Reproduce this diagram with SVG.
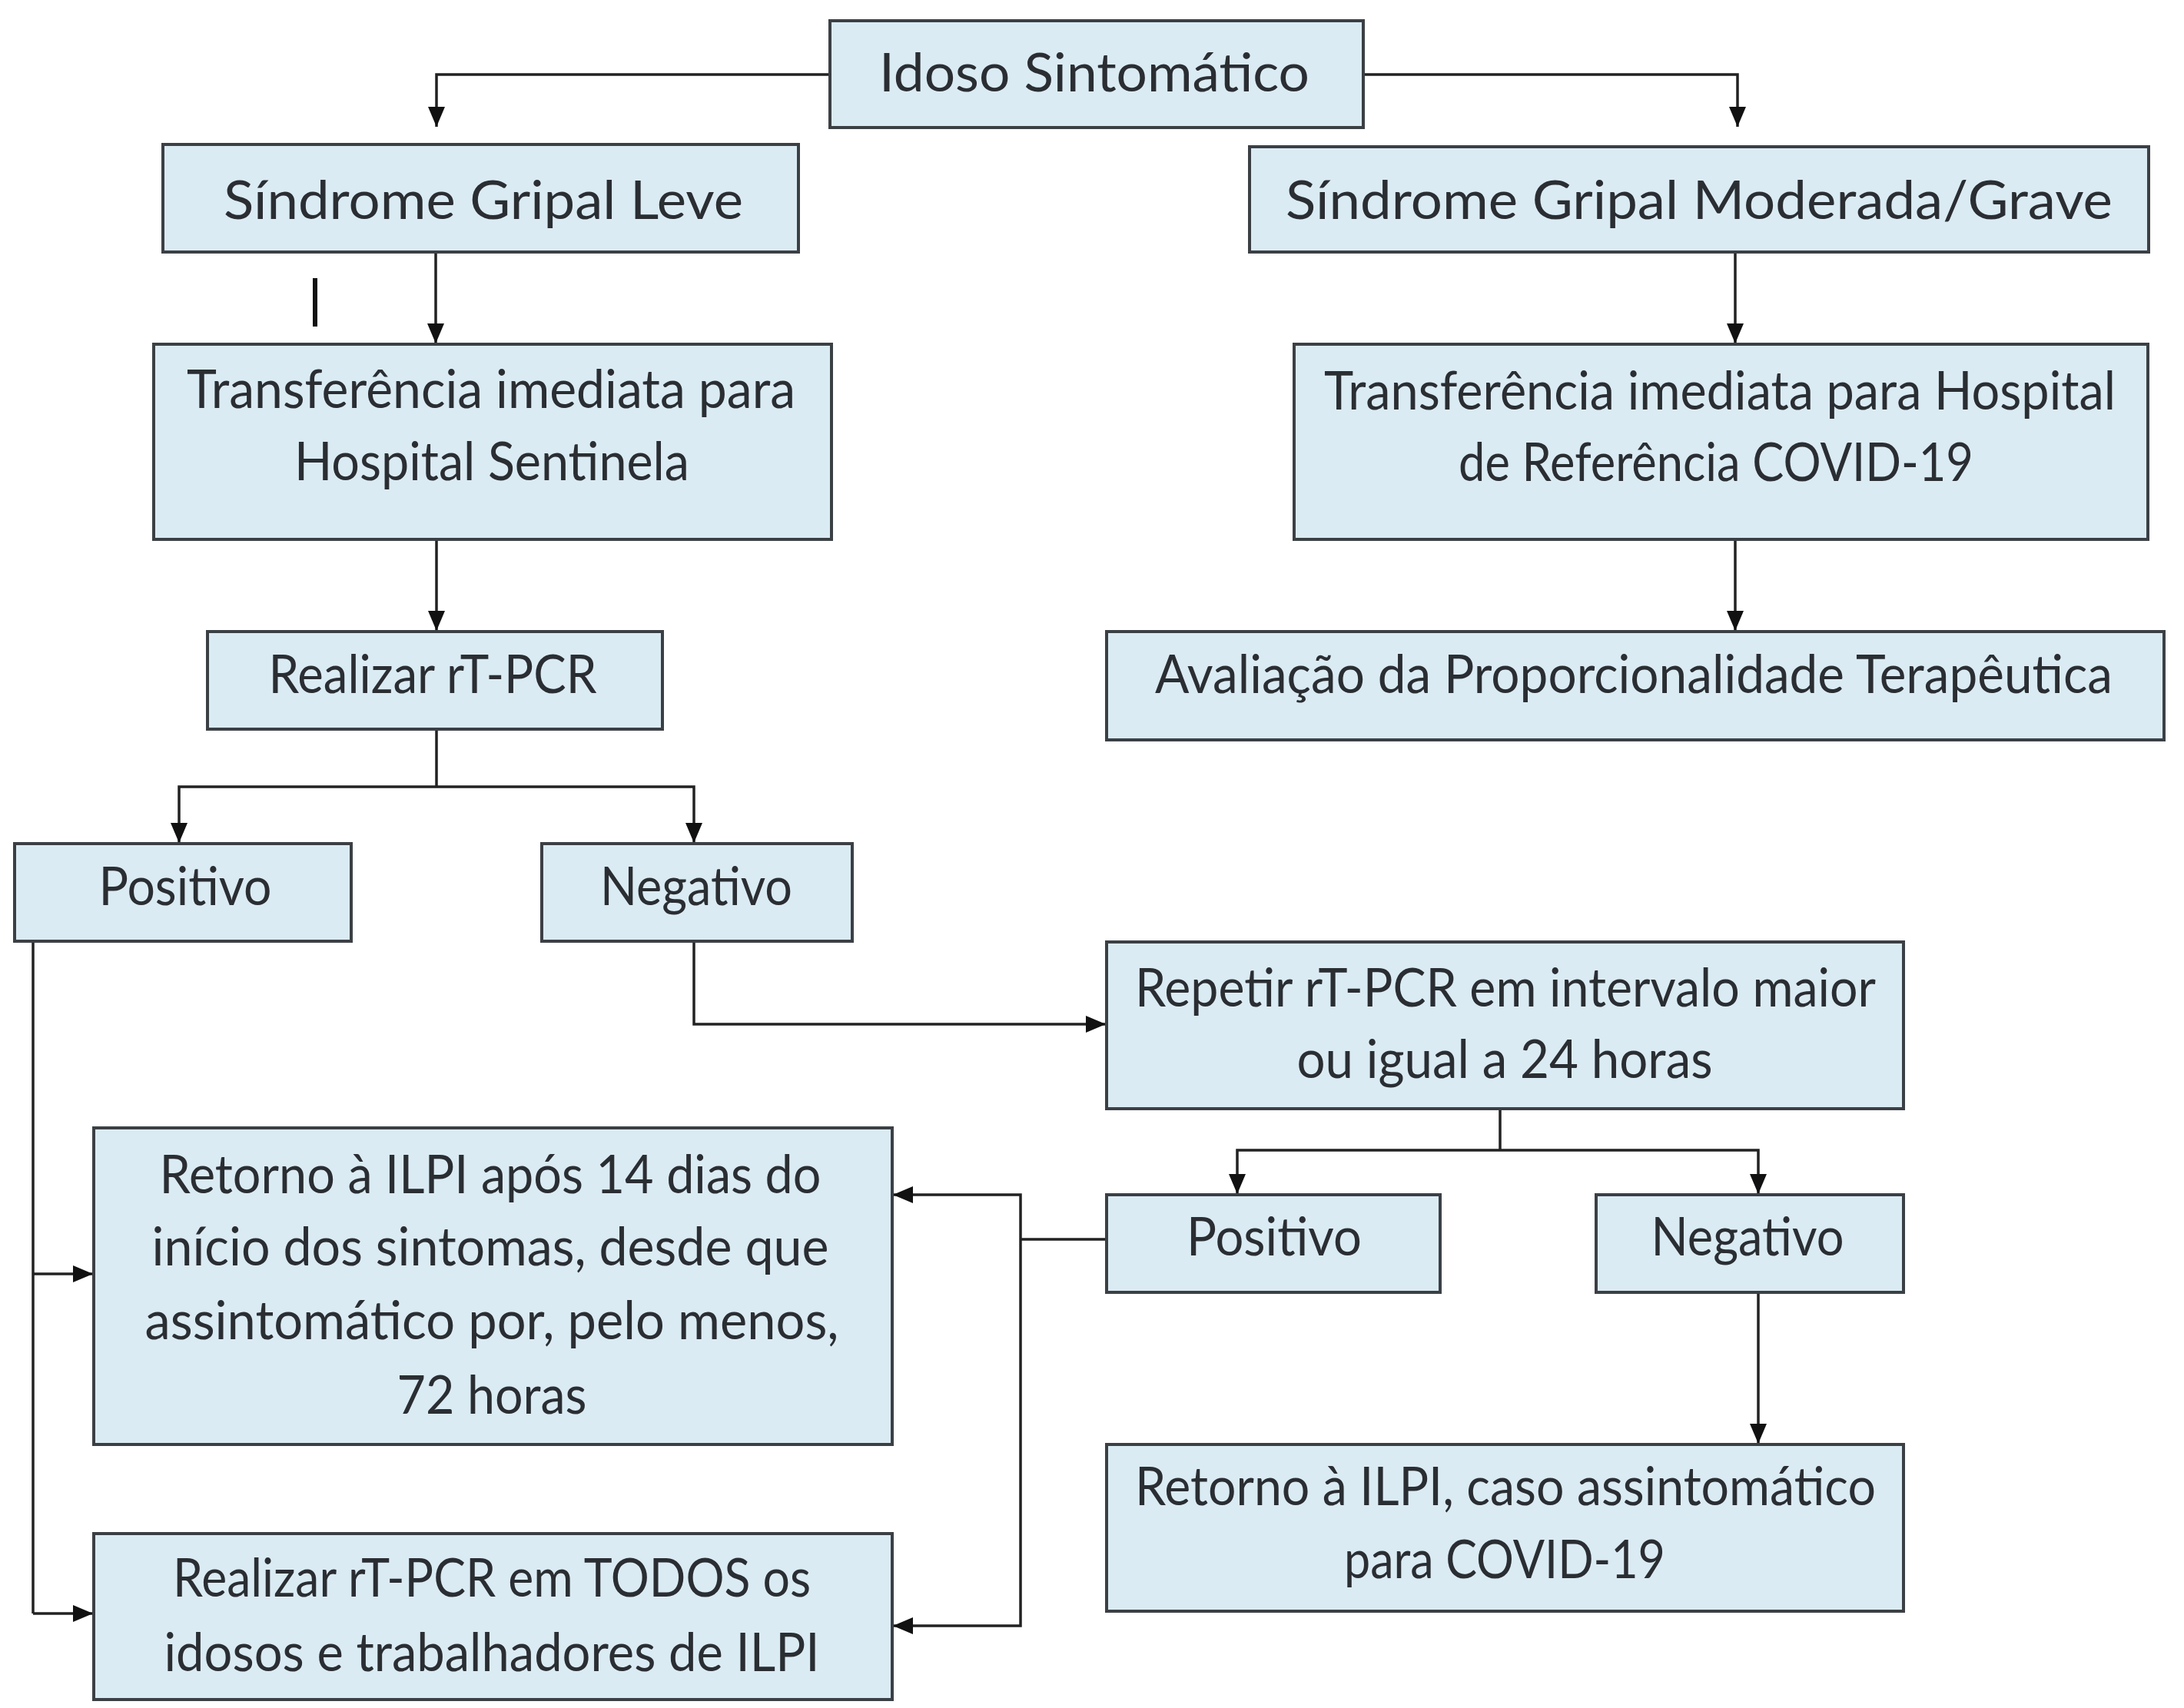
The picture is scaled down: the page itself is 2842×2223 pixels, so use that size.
<svg xmlns="http://www.w3.org/2000/svg" width="2842" height="2223" viewBox="0 0 2842 2223">
<style>
.box{fill:#dbebf3;stroke:#3b4045;stroke-width:4}
.t{font-family:Lato,"Liberation Sans",sans-serif;font-size:70px;fill:#2a2e33;text-anchor:middle}
.c{fill:none;stroke:#222;stroke-width:3.5}
</style>
<defs>
<marker id="ah" markerUnits="userSpaceOnUse" markerWidth="28" markerHeight="24" refX="26" refY="11" orient="auto">
<path d="M0,0 L26,11 L0,22 Z" fill="#111"/>
</marker>
</defs>
<rect width="2842" height="2223" fill="#fff"/>
<g id="connectors">
<path class="c" d="M1080,97 H568 V165" marker-end="url(#ah)"/>
<path class="c" d="M1774,97 H2261 V165" marker-end="url(#ah)"/>
<path class="c" d="M567,328 V447" marker-end="url(#ah)"/>
<path class="c" d="M2258,328 V447" marker-end="url(#ah)"/>
<path class="c" d="M568,702 V821" marker-end="url(#ah)"/>
<path class="c" d="M2258,702 V821" marker-end="url(#ah)"/>
<path class="c" d="M568,949 V1024"/>
<path class="c" d="M568,1024 H233 V1097" marker-end="url(#ah)"/>
<path class="c" d="M568,1024 H903 V1097" marker-end="url(#ah)"/>
<path class="c" d="M43,1225 V2100"/>
<path class="c" d="M43,1658 H121" marker-end="url(#ah)"/>
<path class="c" d="M43,2100 H121" marker-end="url(#ah)"/>
<path class="c" d="M903,1225 V1333 H1439" marker-end="url(#ah)"/>
<path class="c" d="M1952,1443 V1497"/>
<path class="c" d="M1952,1497 H1610 V1554" marker-end="url(#ah)"/>
<path class="c" d="M1952,1497 H2288 V1554" marker-end="url(#ah)"/>
<path class="c" d="M1440,1613 H1328"/>
<path class="c" d="M1328,1613 V1555 H1162" marker-end="url(#ah)"/>
<path class="c" d="M1328,1613 V2116 H1162" marker-end="url(#ah)"/>
<path class="c" d="M2288,1682 V1879" marker-end="url(#ah)"/>
<line x1="410" y1="362" x2="410" y2="425" stroke="#111" stroke-width="6"/>
</g>
<g id="idoso"><rect class="box" x="1080" y="27" width="694" height="139"/><text class="t" x="1424" y="119" textLength="560" lengthAdjust="spacingAndGlyphs">Idoso Sintomático</text></g>
<g id="sg-leve"><rect class="box" x="212" y="188" width="827" height="140"/><text class="t" x="629" y="285" textLength="676" lengthAdjust="spacingAndGlyphs">Síndrome Gripal Leve</text></g>
<g id="sg-grave"><rect class="box" x="1626" y="191" width="1170" height="137"/><text class="t" x="2211" y="285" textLength="1076" lengthAdjust="spacingAndGlyphs">Síndrome Gripal Moderada/Grave</text></g>
<g id="transf-sentinela"><rect class="box" x="200" y="448" width="882" height="254"/><text class="t" x="639" y="531" textLength="792" lengthAdjust="spacingAndGlyphs">Transferência imediata para</text><text class="t" x="640" y="625" textLength="514" lengthAdjust="spacingAndGlyphs">Hospital Sentinela</text></g>
<g id="transf-covid"><rect class="box" x="1684" y="448" width="1111" height="254"/><text class="t" x="2238" y="533" textLength="1030" lengthAdjust="spacingAndGlyphs">Transferência imediata para Hospital</text><text class="t" x="2233" y="626" textLength="670" lengthAdjust="spacingAndGlyphs">de Referência COVID-19</text></g>
<g id="realizar"><rect class="box" x="270" y="822" width="592" height="127"/><text class="t" x="563" y="902" textLength="427" lengthAdjust="spacingAndGlyphs">Realizar rT-PCR</text></g>
<g id="avaliacao"><rect class="box" x="1440" y="822" width="1376" height="141"/><text class="t" x="2126" y="902" textLength="1246" lengthAdjust="spacingAndGlyphs">Avaliação da Proporcionalidade Terapêutica</text></g>
<g id="positivo-1"><rect class="box" x="19" y="1098" width="438" height="127"/><text class="t" x="241" y="1178" textLength="225" lengthAdjust="spacingAndGlyphs">Positivo</text></g>
<g id="negativo-1"><rect class="box" x="705" y="1098" width="404" height="127"/><text class="t" x="906" y="1178" textLength="250" lengthAdjust="spacingAndGlyphs">Negativo</text></g>
<g id="repetir"><rect class="box" x="1440" y="1226" width="1037" height="217"/><text class="t" x="1959" y="1310" textLength="964" lengthAdjust="spacingAndGlyphs">Repetir rT-PCR em intervalo maior</text><text class="t" x="1958" y="1403" textLength="541" lengthAdjust="spacingAndGlyphs">ou igual a 24 horas</text></g>
<g id="retorno-14"><rect class="box" x="122" y="1468" width="1039" height="412"/><text class="t" x="638" y="1553" textLength="861" lengthAdjust="spacingAndGlyphs">Retorno à ILPI após 14 dias do</text><text class="t" x="638" y="1647" textLength="881" lengthAdjust="spacingAndGlyphs">início dos sintomas, desde que</text><text class="t" x="640" y="1743" textLength="903" lengthAdjust="spacingAndGlyphs">assintomático por, pelo menos,</text><text class="t" x="640" y="1840" textLength="247" lengthAdjust="spacingAndGlyphs">72 horas</text></g>
<g id="positivo-2"><rect class="box" x="1440" y="1555" width="434" height="127"/><text class="t" x="1658" y="1634" textLength="228" lengthAdjust="spacingAndGlyphs">Positivo</text></g>
<g id="negativo-2"><rect class="box" x="2077" y="1555" width="400" height="127"/><text class="t" x="2274" y="1634" textLength="251" lengthAdjust="spacingAndGlyphs">Negativo</text></g>
<g id="retorno-caso"><rect class="box" x="1440" y="1880" width="1037" height="217"/><text class="t" x="1959" y="1959" textLength="964" lengthAdjust="spacingAndGlyphs">Retorno à ILPI, caso assintomático</text><text class="t" x="1958" y="2054" textLength="418" lengthAdjust="spacingAndGlyphs">para COVID-19</text></g>
<g id="realizar-todos"><rect class="box" x="122" y="1996" width="1039" height="216"/><text class="t" x="640" y="2078" textLength="830" lengthAdjust="spacingAndGlyphs">Realizar rT-PCR em TODOS os</text><text class="t" x="640" y="2175" textLength="853" lengthAdjust="spacingAndGlyphs">idosos e trabalhadores de ILPI</text></g>
</svg>
